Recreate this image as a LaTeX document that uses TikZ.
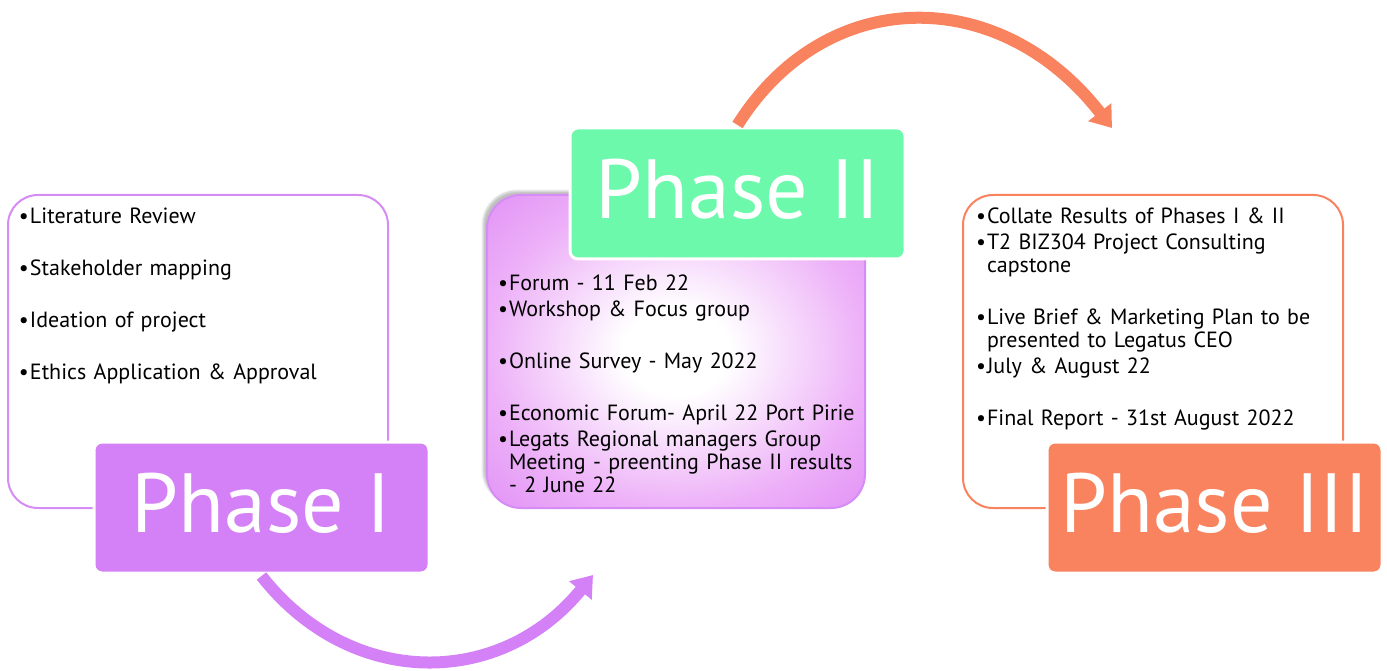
\documentclass[tikz,border=0pt]{standalone}
\usepackage{fontspec}
\setmainfont{PT Sans}
\usetikzlibrary{arrows.meta,shadows.blur}

\definecolor{ph1}{HTML}{D480F6}
\definecolor{ph1line}{HTML}{D68CF5}
\definecolor{ph2}{HTML}{6CF9AB}
\definecolor{ph3}{HTML}{F9825F}
\definecolor{glow}{HTML}{EDB0F8}
\definecolor{glowdark}{HTML}{E294F6}

% soft pink centre for the middle card
\pgfdeclareradialshading{pinkglow}{\pgfpoint{0bp}{0bp}}{color(0bp)=(white); color(7bp)=(white); color(25bp)=(glow); color(35bp)=(glowdark); color(50bp)=(glowdark)}

% bullet with hanging indent, and an empty line between items
\newcommand\bul{\par\hangindent=11pt\hangafter=1\noindent\makebox[11pt][l]{\textbullet}}
\newcommand\gap{\par\vspace{26pt}}

\begin{document}
\begin{tikzpicture}[x=1pt,y=-1pt]
\tikzstyle{every node}=[inner sep=0pt, outer sep=0pt]
\tikzstyle{card}=[draw, line width=2pt, rounded corners=30pt, minimum width=380pt, minimum height=313pt, anchor=north west]
\tikzstyle{tag}=[draw=white, line width=3pt, rounded corners=8pt, minimum width=335pt, minimum height=131pt, anchor=north west, text=white, font=\fontsize{84}{84}\selectfont, text depth=10pt]
\tikzstyle{items}=[anchor=north west, text width=372pt, align=left, font=\fontsize{22}{23}\selectfont\setlength{\parskip}{3pt}]
\tikzstyle{flow}=[line width=12pt, -{Triangle[width=28pt,length=20pt]}]
\useasboundingbox (0,0) rectangle (1387,671);

% phase I
\node (c1) [card, draw=ph1line] at (8,195) {};
\node (t1) [items] at (19,198) {\bul Literature Review\gap
  \bul Stakeholder mapping\gap
  \bul Ideation of project\gap
  \bul Ethics Application \& Approval\par};
\node (p1) [tag, fill=ph1] at (94,442) {Phase I};

% phase II
\node (c2) [card, draw=ph1line, shading=pinkglow, rounded corners=34pt, minimum width=378pt,
  blur shadow={shadow xshift=-4pt, shadow yshift=4pt, shadow blur steps=8, shadow opacity=25}] at (487,195) {};
\node (t2) [items] at (498,265) {\bul Forum - 11 Feb 22
  \bul Workshop \& Focus group\gap
  \bul Online Survey - May 2022\gap
  \bul Economic Forum- April 22 Port Pirie
  \bul Legats Regional managers Group\newline Meeting - preenting Phase II results\newline - 2 June 22\par};
\node (p2) [tag, fill=ph2] at (570,128) {Phase II};

% phase III
\node (c3) [card, draw=ph3] at (963,195) {};
\node (t3) [items] at (976,198) {\bul Collate Results of Phases I \& II
  \bul T2 BIZ304 Project Consulting\newline capstone\gap
  \bul Live Brief \& Marketing Plan to be\newline presented to Legatus CEO
  \bul July \& August 22\gap
  \bul Final Report - 31st August 2022\par};
\node (p3) [tag, fill=ph3] at (1047,442) {Phase III};

% arrows between the phases
\coordinate (e1) at (593,575);
\coordinate (e2) at (1112,128);
\draw[flow, ph1] ([yshift=-3pt]p1.south) .. controls (350,689) and (500,689) .. (e1);
\draw[flow, ph3] ([yshift=3pt]p2.north) .. controls (826,-16) and (1000,-16) .. (e2);
\end{tikzpicture}
\end{document}
